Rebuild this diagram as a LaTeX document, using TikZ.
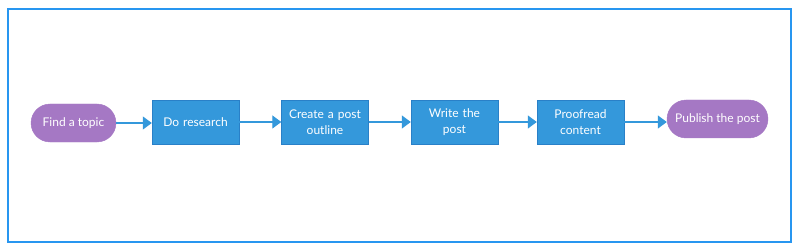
\documentclass[tikz,border=0pt]{standalone}
\usepackage{fontspec}
\setmainfont{Lato}
\usepackage{tikz}
\usetikzlibrary{arrows.meta,positioning}
\definecolor{stepblue}{RGB}{52,152,219}
\definecolor{stepedge}{RGB}{41,128,200}
\definecolor{endpurple}{RGB}{165,120,196}
\definecolor{framecol}{RGB}{40,150,240}

\begin{document}
\begin{tikzpicture}[x=1pt,y=-1pt, >={Triangle[length=9pt,width=13pt]},
  every node/.style={font=\fontsize{12}{16}\selectfont,text=white,align=center},
  stepbox/.style={draw=stepedge,fill=stepblue,minimum width=87pt,minimum height=44pt,inner sep=2pt,text width=80pt},
  endbox/.style={draw=endpurple,fill=endpurple,rounded corners=19pt,minimum height=38pt,inner sep=2pt},
  flow/.style={->,draw=stepblue,line width=1.2pt}]
\useasboundingbox (0,0) rectangle (800,251);
\draw[framecol,line width=1.6pt] (8,9) rectangle (791,242);
\node[endbox,minimum width=85pt] (topic) at (73.5,123) {Find a topic};
\node[stepbox] (research) at (195.5,122) {Do research};
\node[stepbox] (outline) at (325,122) {Create a post\\outline};
\node[stepbox] (write) at (454.5,122) {Write the\\post};
\node[stepbox] (proof) at (580.5,122) {Proofread\\content};
\node[endbox,minimum width=101pt] (publish) at (717.5,119) {Publish the post};
\draw[flow] (topic.east) -- (research.west |- topic.east);
\draw[flow] (research) -- (outline);
\draw[flow] (outline) -- (write);
\draw[flow] (write) -- (proof);
\draw[flow] (proof.east) -- (publish.west |- proof.east);
\end{tikzpicture}
\end{document}
